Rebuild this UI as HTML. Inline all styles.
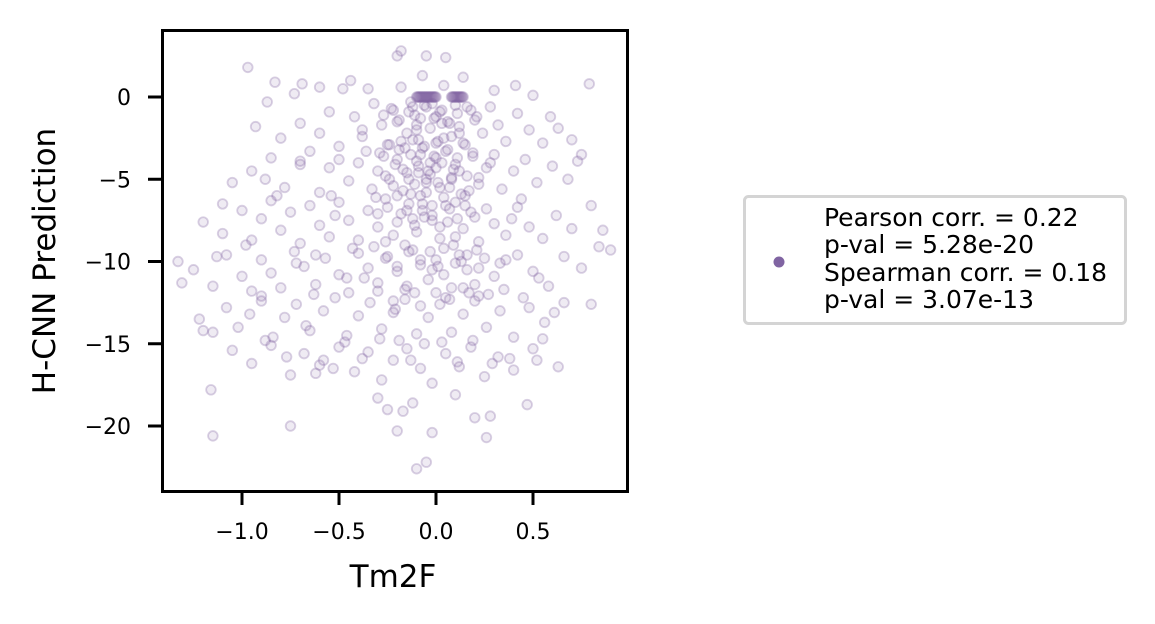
<!DOCTYPE html>
<html><head><meta charset="utf-8"><style>
html,body{margin:0;padding:0;background:#fff;}
svg{display:block;}
svg text{font-family:"DejaVu Sans","Liberation Sans",sans-serif;}
</style></head><body>
<svg id="chart" width="1155" height="624" viewBox="0 0 1155 624">
<g id="points"></g>
<rect x="162.5" y="30.5" width="465" height="461" fill="none" stroke="#000" stroke-width="3"/>
<g id="xticks"></g>
<g id="yticks"></g>
<text x="393" y="587" style="font-size:31px" text-anchor="middle">Tm2F</text>
<text transform="translate(55,261) rotate(-90)" style="font-size:31px" text-anchor="middle">H-CNN Prediction</text>
<g>
<rect x="744.5" y="196.5" width="381" height="127" rx="4" fill="#fff" stroke="#d4d4d4" stroke-width="3"/>
<circle cx="779" cy="262" r="5.5" fill="#8064a2"/>
<text x="824" y="226" style="font-size:25px">Pearson corr. = 0.22</text>
<text x="824" y="253" style="font-size:25px">p-val = 5.28e-20</text>
<text x="824" y="281" style="font-size:25px">Spearman corr. = 0.18</text>
<text x="824" y="308" style="font-size:25px">p-val = 3.07e-13</text>
</g>
</svg>
<script>
const xTicks=[-1.0,-0.5,0.0,0.5];
const xTickLabels=["−1.0","−0.5","0.0","0.5"];
const yTicks=[0,-5,-10,-15,-20];
const yTickLabels=["0","−5","−10","−15","−20"];
const xVals=[-1.33,-1.31,-1.2,-1.15,-1.16,-0.97,-0.83,-0.87,-0.73,-0.75,-0.69,-0.6,-0.48,-0.44,-0.35,-0.2,-0.18,-0.05,0.05,0.14,0.3,0.41,0.5,0.59,0.79,0.8,0.9,0.86,0.75,0.47,0.28,0.2,0.26,-0.02,-0.1,-0.05,-0.2,-0.25,-0.17,-0.88,-1.1,-1.13,-0.62,-0.53,0.63,0.55,
-0.93,-0.8,-0.7,-0.6,-0.55,-0.5,-0.42,-0.38,-0.32,-0.28,-0.25,-0.22,-0.2,-0.18,-0.15,-0.13,-0.11,-0.09,-0.07,-0.05,-0.03,0.0,0.02,0.04,0.06,0.08,0.1,0.12,0.15,0.18,0.2,0.24,0.28,0.32,0.36,0.42,0.48,0.55,0.63,0.7,
-1.05,-0.95,-0.85,-0.78,-0.7,-0.65,-0.6,-0.55,-0.5,-0.45,-0.4,-0.36,-0.33,-0.3,-0.27,-0.24,-0.21,-0.19,-0.17,-0.15,-0.13,-0.11,-0.09,-0.07,-0.05,-0.03,-0.01,0.01,0.03,0.05,0.07,0.09,0.11,0.13,0.16,0.19,0.22,0.26,0.3,0.34,0.4,0.46,0.52,0.6,0.68,0.73,
-1.2,-1.1,-1.0,-0.95,-0.9,-0.85,-0.8,-0.75,-0.7,-0.65,-0.6,-0.55,-0.5,-0.45,-0.4,-0.35,-0.3,-0.26,-0.22,-0.18,-0.14,-0.1,-0.06,-0.02,0.02,0.06,0.1,0.14,0.18,0.22,0.26,0.3,0.36,0.42,0.48,0.55,0.62,0.7,0.8,
-1.25,-1.15,-1.08,-1.0,-0.95,-0.9,-0.85,-0.8,-0.73,-0.68,-0.62,-0.57,-0.5,-0.45,-0.4,-0.35,-0.3,-0.25,-0.2,-0.16,-0.12,-0.08,-0.04,0.0,0.04,0.08,0.12,0.16,0.2,0.25,0.3,0.35,0.42,0.5,0.58,0.66,0.75,0.84,
-1.22,-1.15,-1.08,-1.02,-0.96,-0.9,-0.84,-0.78,-0.72,-0.65,-0.58,-0.52,-0.46,-0.4,-0.34,-0.28,-0.22,-0.16,-0.1,-0.04,0.02,0.08,0.14,0.2,0.26,0.33,0.4,0.48,0.56,0.66,
-1.05,-0.95,-0.85,-0.75,-0.68,-0.6,-0.5,-0.42,-0.35,-0.28,-0.22,-0.15,-0.08,-0.02,0.05,0.12,0.18,0.25,0.32,0.4,0.5,-0.3,0.1,-0.12,
-0.12,-0.08,-0.02,0.03,-0.1,-0.06,0.0,-0.04,0.02,-0.08,0.05,-0.02,0.08,-0.14,-0.1,0.12,-0.18,0.0,-0.05,0.04,-0.12,0.1,-0.2,0.15,
-0.98,-0.9,-0.82,-0.72,-0.63,-0.52,-0.43,-0.37,-0.31,-0.26,-0.21,-0.16,-0.11,-0.07,-0.03,0.01,0.05,0.09,0.13,0.17,0.21,0.27,0.33,0.39,0.45,0.53,0.61,-0.88,-0.77,-0.67,-0.58,-0.47,-0.38,-0.29,-0.19,-0.13,-0.06,0.03,0.11,0.19,0.29,0.38,0.52,
-0.27,-0.23,-0.19,-0.14,-0.1,-0.06,-0.01,0.03,0.07,0.11,0.16,0.21,
-0.29,-0.24,-0.2,-0.16,-0.12,-0.08,-0.03,0.01,0.06,0.1,0.14,0.19,
-0.26,-0.22,-0.17,-0.13,-0.09,-0.05,0.0,0.04,0.08,0.12,0.17,0.22,
-0.3,-0.25,-0.2,-0.15,-0.11,-0.07,-0.02,0.02,0.07,0.11,0.15,0.2,
-0.32,-0.26,-0.2,-0.14,-0.08,-0.02,0.04,0.1,0.16,0.22,
-0.3,-0.22,-0.15,-0.08,0.0,0.07,0.14,0.22,
-0.7,-0.62,-0.54,-0.46,-0.38,0.28,0.36,0.44,
-0.1,-0.095,-0.09,-0.085,-0.08,-0.075,-0.07,-0.065,-0.06,-0.055,-0.05,-0.045,-0.04,-0.035,-0.03,-0.025,-0.02,-0.015,-0.01,-0.005,0.0,0.08,0.085,0.09,0.095,0.1,0.105,0.11,0.115,0.12,0.125,0.13,0.135,0.14];
const yVals=[-10.0,-11.3,-14.2,-20.6,-17.8,1.8,0.9,-0.3,0.2,-20.0,0.8,0.6,0.5,1.0,0.5,2.5,2.8,2.5,2.4,1.2,0.4,0.7,0.1,-1.2,0.8,-12.6,-9.3,-8.1,-3.5,-18.7,-19.4,-19.5,-20.7,-20.4,-22.6,-22.2,-20.3,-19.0,-19.1,-5.0,-6.5,-9.7,-16.8,-16.5,-16.4,-14.7,
-1.8,-2.5,-1.6,-2.2,-0.9,-3.0,-1.2,-2.4,-0.4,-1.7,-2.9,-0.8,-1.5,0.6,-2.2,-0.3,-1.1,-2.6,1.3,-0.6,-1.9,-2.8,-0.9,0.7,-1.5,-2.4,-0.5,-1.8,-2.9,-0.8,-1.4,-2.2,-0.6,-1.7,-2.7,-1.0,-2.0,-2.8,-1.9,-2.6,
-5.2,-4.5,-3.7,-5.5,-4.1,-3.3,-5.8,-4.3,-3.8,-5.1,-4.0,-3.3,-5.6,-4.5,-3.6,-5.0,-4.1,-3.2,-5.7,-4.6,-3.5,-5.3,-4.2,-3.1,-5.8,-4.7,-3.6,-5.2,-4.0,-3.3,-5.5,-4.4,-3.7,-5.9,-4.8,-3.4,-5.3,-4.3,-3.5,-5.6,-4.5,-3.8,-5.2,-4.2,-5.0,-3.9,
-7.6,-8.3,-6.9,-8.7,-7.4,-6.3,-8.1,-7.0,-8.9,-6.6,-7.8,-8.5,-6.4,-7.5,-8.7,-6.9,-7.9,-6.2,-8.4,-7.1,-6.5,-8.2,-7.3,-6.6,-8.6,-7.6,-6.4,-8.0,-7.0,-8.8,-6.8,-7.7,-8.4,-6.7,-7.9,-8.6,-7.2,-8.0,-6.6,
-10.5,-11.5,-9.6,-10.9,-11.8,-9.9,-10.7,-11.6,-9.4,-10.3,-11.4,-9.8,-10.8,-11.9,-9.5,-10.4,-11.3,-9.7,-10.6,-11.7,-9.3,-10.2,-11.1,-9.9,-10.8,-11.6,-9.6,-10.5,-11.4,-9.8,-10.9,-11.7,-9.6,-10.6,-11.5,-9.7,-10.4,-9.1,
-13.5,-14.3,-12.8,-14.0,-13.2,-12.4,-14.6,-13.4,-12.6,-14.2,-13.0,-12.2,-14.5,-13.3,-12.5,-14.1,-13.1,-12.3,-14.4,-13.4,-12.6,-14.3,-13.2,-12.4,-14.0,-13.0,-14.6,-12.8,-13.7,-12.5,
-15.4,-16.2,-15.1,-16.9,-15.6,-16.3,-15.2,-16.7,-15.5,-17.2,-16.0,-15.3,-16.5,-17.4,-15.6,-16.4,-15.2,-17.0,-15.8,-16.6,-15.3,-18.3,-18.1,-18.6,
-0.6,-1.3,-0.4,-1.6,-2.0,-3.0,-3.7,-4.5,-5.5,-6.0,-6.6,-7.5,-4.9,-5.0,-3.9,-2.2,-2.7,-1.2,-5.0,-2.5,-7.4,-8.5,-6.0,-6.0,
-9.0,-12.1,-6.0,-10.1,-12.0,-7.2,-9.2,-11.0,-6.1,-8.8,-12.9,-9.0,-11.9,-6.9,-9.4,-10.3,-12.2,-9.0,-10.0,-11.9,-9.3,-12.0,-10.1,-7.4,-12.2,-11.0,-13.1,-14.8,-15.8,-13.9,-16.0,-14.9,-15.9,-14.7,-14.8,-16.0,-15.0,-14.9,-16.1,-14.8,-16.2,-15.9,-16.0,
-1.1,-0.7,-1.4,-0.9,-1.7,-0.5,-1.3,-0.8,-1.6,-1.0,-0.6,-1.2,
-3.4,-2.9,-3.8,-3.1,-2.6,-3.5,-4.0,-2.7,-3.2,-4.1,-2.8,-3.6,
-4.8,-5.4,-4.4,-5.9,-4.6,-5.2,-4.3,-6.1,-5.0,-4.5,-5.7,-4.9,
-7.1,-6.7,-7.6,-6.9,-7.8,-6.5,-7.2,-7.9,-6.8,-7.4,-6.6,-7.3,
-9.1,-9.8,-10.3,-9.4,-9.9,-10.5,-9.2,-10.1,-9.6,-10.4,
-11.8,-12.4,-11.5,-12.7,-11.9,-12.3,-11.6,-12.1,
-3.9,-9.6,-6.0,-11.0,-2.0,-4.0,-9.9,-6.2,
0,0,0,0,0,0,0,0,0,0,0,0,0,0,0,0,0,0,0,0,0,0,0,0,0,0,0,0,0,0,0,0,0,0];
const NS="http://www.w3.org/2000/svg";
function xs(v){return 436+v*194;}
function ys(v){return 97-v*16.45;}
const gp=document.getElementById('points');
for(let i=0;i<xVals.length;i++){
  const c=document.createElementNS(NS,'circle');
  
  
  c.setAttribute('cx',xs(xVals[i]));c.setAttribute('cy',ys(yVals[i]));c.setAttribute('r',4.8);
  c.setAttribute('fill','rgba(128,100,162,0.13)');c.setAttribute('stroke','rgba(128,100,162,0.3)');c.setAttribute('stroke-width','1.8');
  gp.appendChild(c);
}
const gx=document.getElementById('xticks');
xTicks.forEach((t,i)=>{
  const l=document.createElementNS(NS,'line');
  
  
  l.setAttribute('x1',xs(t));l.setAttribute('x2',xs(t));l.setAttribute('y1',491);l.setAttribute('y2',505);l.setAttribute('stroke','#000');l.setAttribute('stroke-width','3');
  gx.appendChild(l);
  const tx=document.createElementNS(NS,'text');
  
  
  tx.setAttribute('x',xs(t));tx.setAttribute('y',539);tx.setAttribute('style','font-size:22px');tx.setAttribute('text-anchor','middle');
  tx.textContent=xTickLabels[i];gx.appendChild(tx);
});
const gy=document.getElementById('yticks');
yTicks.forEach((t,i)=>{
  const l=document.createElementNS(NS,'line');
  
  
  l.setAttribute('x1',148);l.setAttribute('x2',162);l.setAttribute('y1',ys(t));l.setAttribute('y2',ys(t));l.setAttribute('stroke','#000');l.setAttribute('stroke-width','3');
  gy.appendChild(l);
  const tx=document.createElementNS(NS,'text');
  
  
  tx.setAttribute('x',131);tx.setAttribute('y',ys(t)+8);tx.setAttribute('style','font-size:22px');tx.setAttribute('text-anchor','end');
  tx.textContent=yTickLabels[i];gy.appendChild(tx);
});
</script>
</body></html>
